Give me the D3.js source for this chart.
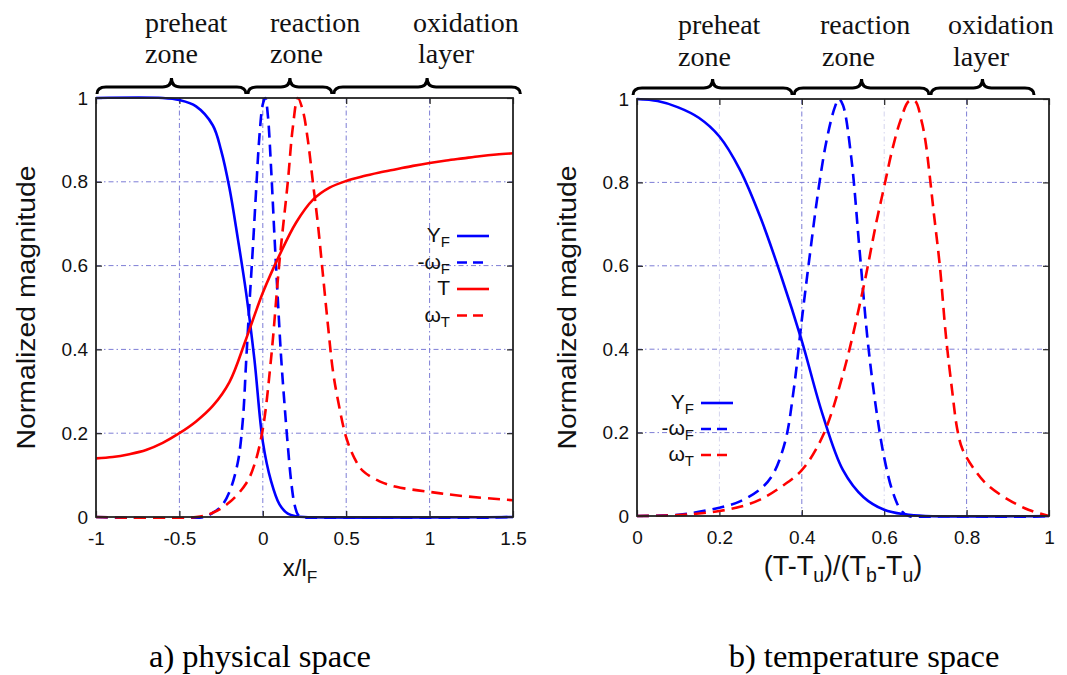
<!DOCTYPE html>
<html><head><meta charset="utf-8">
<script src="https://cdn.jsdelivr.net/npm/d3@7"></script>
<style>body{margin:0;background:#fff}</style></head>
<body><svg id="c" width="1067" height="675"></svg>
<script>
// ---------- data: (a) physical space ----------
const physXTicks = [-1, -0.5, 0, 0.5, 1, 1.5];
const yTicks = [0, 0.2, 0.4, 0.6, 0.8, 1];
const physYF_x = [-1,-0.6,-0.5,-0.4,-0.3,-0.25,-0.2,-0.15,-0.1,-0.05,0,0.05,0.1,0.15,0.2,0.25,1.5];
const physYF_y = [1,1,0.995,0.98,0.935,0.875,0.785,0.665,0.535,0.375,0.18,0.085,0.03,0.008,0.002,0,0];
const physWF_x = [-1,-0.35,-0.3,-0.25,-0.2,-0.15,-0.12,-0.1,-0.08,-0.06,-0.04,-0.02,0,0.015,0.03,0.05,0.07,0.09,0.11,0.13,0.15,0.17,0.19,0.21,0.23,1.5];
const physWF_y = [0,0,0.01,0.025,0.06,0.13,0.23,0.37,0.51,0.64,0.78,0.91,0.985,1,0.96,0.83,0.67,0.52,0.38,0.27,0.17,0.085,0.03,0.006,0,0];
const physT_x = [-1,-0.9,-0.8,-0.7,-0.6,-0.5,-0.4,-0.3,-0.2,-0.1,0,0.1,0.2,0.3,0.4,0.5,0.6,0.7,0.8,0.9,1,1.1,1.2,1.3,1.4,1.5];
const physT_y = [0.14,0.143,0.15,0.16,0.177,0.2,0.228,0.265,0.322,0.425,0.535,0.625,0.703,0.757,0.786,0.802,0.813,0.822,0.83,0.838,0.845,0.851,0.856,0.861,0.865,0.868];
const physWT_x = [-1,-0.4,-0.3,-0.2,-0.1,-0.05,0,0.05,0.1,0.15,0.18,0.21,0.24,0.27,0.3,0.33,0.36,0.39,0.42,0.45,0.5,0.55,0.6,0.7,0.8,1.0,1.2,1.5];
const physWT_y = [0,0,0.01,0.035,0.08,0.125,0.21,0.38,0.61,0.8,0.93,1,0.97,0.9,0.8,0.7,0.58,0.46,0.35,0.28,0.19,0.14,0.11,0.085,0.072,0.06,0.05,0.04];
const physZones = [["preheat","zone"],["reaction","zone"],["oxidation","layer"]];
const physZoneEdges = [-1, -0.095, 0.42, 1.55];

// ---------- data: (b) temperature space ----------
const tempXTicks = [0, 0.2, 0.4, 0.6, 0.8, 1];
const tempYF_x = [0,0.05,0.1,0.15,0.2,0.25,0.3,0.35,0.4,0.45,0.5,0.55,0.6,0.65,0.7,1];
const tempYF_y = [1,0.995,0.98,0.955,0.91,0.83,0.715,0.575,0.42,0.245,0.11,0.045,0.015,0.004,0,0];
const tempWF_x = [0,0.1,0.15,0.2,0.25,0.3,0.33,0.36,0.38,0.4,0.42,0.44,0.46,0.48,0.49,0.5,0.52,0.54,0.56,0.58,0.6,0.62,0.64,0.66,1];
const tempWF_y = [0,0.003,0.01,0.02,0.035,0.065,0.1,0.18,0.3,0.47,0.63,0.78,0.9,0.98,1,0.985,0.86,0.64,0.42,0.26,0.14,0.06,0.015,0,0];
const tempWT_x = [0,0.1,0.15,0.2,0.25,0.3,0.35,0.4,0.45,0.5,0.55,0.58,0.6,0.62,0.64,0.66,0.675,0.69,0.7,0.71,0.72,0.735,0.75,0.765,0.777,0.79,0.82,0.85,0.9,0.95,1];
const tempWT_y = [0,0.002,0.006,0.012,0.022,0.04,0.07,0.11,0.19,0.34,0.55,0.7,0.79,0.88,0.95,0.995,0.995,0.95,0.9,0.82,0.73,0.6,0.43,0.3,0.21,0.16,0.11,0.075,0.04,0.015,0];
const tempZones = [["preheat","zone"],["reaction","zone"],["oxidation","layer"]];
const tempZoneEdges = [-0.012, 0.379, 0.711, 0.966];

const BLUE = "#0000ff", RED = "#ff0000";
const svg = d3.select("#c");

function zip(xs, ys){ return xs.map((x,i)=>[x, ys[i]]); }

function brace(g, xa, xb, y){
  const xm = (xa+xb)/2, h = 7;
  const p = `M${xa},${y+h} Q${xa},${y} ${xa+9},${y} L${xm-9},${y} Q${xm},${y} ${xm},${y-h-2} Q${xm},${y} ${xm+9},${y} L${xb-9},${y} Q${xb},${y} ${xb},${y+h}`;
  g.append("path").attr("d", p).attr("fill","none").attr("stroke","#000").attr("stroke-width",3);
}

function panel(cfg){
  const x = d3.scaleLinear().domain(cfg.xDomain).range([cfg.x0, cfg.x1]);
  const y = d3.scaleLinear().domain([0,1]).range([cfg.y1, cfg.y0]);
  const g = svg.append("g");
  const clipId = "clip"+cfg.id;
  g.append("clipPath").attr("id", clipId).append("rect")
    .attr("x", cfg.x0).attr("y", cfg.y0-4).attr("width", cfg.x1-cfg.x0).attr("height", cfg.y1-cfg.y0+6);

  // grid
  const gridV = cfg.xTicks.slice(1,-1);
  gridV.forEach(v=>{
    g.append("line").attr("x1",x(v)).attr("x2",x(v)).attr("y1",cfg.y0).attr("y2",cfg.y1)
      .attr("stroke", cfg.faintV && cfg.faintV.includes(v) ? "#d4d4ee" : "#7d7dd6")
      .attr("stroke-width",1).attr("stroke-dasharray","5,3,1.5,3");
  });
  yTicks.slice(1,-1).forEach(v=>{
    g.append("line").attr("x1",cfg.x0).attr("x2",cfg.x1).attr("y1",y(v)).attr("y2",y(v))
      .attr("stroke","#7d7dd6").attr("stroke-width",1).attr("stroke-dasharray","5,3,1.5,3");
  });

  // axes (inward ticks)
  const fmt = d=> String(d);
  const ax = g.append("g").attr("transform",`translate(0,${cfg.y1})`)
    .call(d3.axisBottom(x).tickValues(cfg.xTicks).tickFormat(fmt).tickSize(-6).tickPadding(15));
  const axT = g.append("g").attr("transform",`translate(0,${cfg.y0})`)
    .call(d3.axisTop(x).tickValues(cfg.xTicks).tickFormat("").tickSize(-6));
  const ay = g.append("g").attr("transform",`translate(${cfg.x0},0)`)
    .call(d3.axisLeft(y).tickValues(yTicks).tickFormat(fmt).tickSize(-6).tickPadding(8));
  const ayR = g.append("g").attr("transform",`translate(${cfg.x1},0)`)
    .call(d3.axisRight(y).tickValues(yTicks).tickFormat("").tickSize(-6));
  [ax,axT,ay,ayR].forEach(a=>{
    a.select(".domain").remove();
    a.selectAll(".tick line").attr("stroke","#222").attr("stroke-width",1.2);
    a.selectAll(".tick text").attr("font-family","'Liberation Sans',Arial,sans-serif").attr("font-size",19).attr("fill","#111");
  });

  // curves
  const line = d3.line().x(d=>x(d[0])).y(d=>y(d[1])).curve(d3.curveCatmullRom.alpha(0.5));
  const cg = g.append("g").attr("clip-path",`url(#${clipId})`);
  cfg.series.forEach(s=>{
    cg.append("path").datum(zip(s.xs, s.ys)).attr("d", line).attr("fill","none")
      .attr("stroke", s.color).attr("stroke-width",2.6)
      .attr("stroke-dasharray", s.dash ? "12,7" : null);
  });

  // frame
  g.append("rect").attr("x",cfg.x0).attr("y",cfg.y0).attr("width",cfg.x1-cfg.x0).attr("height",cfg.y1-cfg.y0)
    .attr("fill","none").attr("stroke","#222").attr("stroke-width",1.8);

  // y title
  g.append("text").attr("transform",`translate(${cfg.x0-61},${(cfg.y0+cfg.y1)/2}) rotate(-90)`)
    .attr("text-anchor","middle").attr("font-family","'Liberation Sans',Arial,sans-serif")
    .attr("font-size",26).attr("fill","#111").attr("textLength",284).attr("lengthAdjust","spacingAndGlyphs")
    .text("Normalized magnitude");

  // x title
  const xt = g.append("text").attr("x", cfg.xTitleX).attr("y", cfg.y1+59).attr("text-anchor","middle")
    .attr("font-family","'Liberation Sans',Arial,sans-serif").attr("font-size",cfg.xTitleSize).attr("fill","#111");
  cfg.xTitle.forEach(part=>{
    const t = xt.append("tspan").text(part.t);
    if(part.sub){ t.attr("font-size",cfg.xTitleSize*0.72).attr("dy",7); }
    else if(part.after){ t.attr("dy",-7); }
  });

  // legend
  cfg.legend.forEach((L,i)=>{
    const ly = cfg.legY + i*cfg.legDY;
    g.append("line").attr("x1",cfg.legX).attr("x2",cfg.legX+32).attr("y1",ly).attr("y2",ly)
      .attr("stroke",L.color).attr("stroke-width",2.6).attr("stroke-dasharray",L.dash?"10,6":null);
    const t = g.append("text").attr("x",cfg.legX-7).attr("y",ly+6).attr("text-anchor","end")
      .attr("font-family","'Liberation Sans',Arial,sans-serif").attr("font-size",21).attr("fill","#111");
    t.append("tspan").text(L.main);
    if(L.sub) t.append("tspan").attr("font-size",15).attr("dy",5).text(L.sub);
  });

  // zone braces + labels
  const bg = g.append("g");
  for(let i=0;i<3;i++){
    const xa = x(cfg.zoneEdges[i]), xb = x(cfg.zoneEdges[i+1]);
    brace(bg, xa+1, xb-1, cfg.braceY);
    const lab = cfg.zones[i];
    const off = cfg.zoneTextOff[i];
    bg.append("text").attr("x", off[0]).attr("y", cfg.zoneTextY[0])
      .attr("font-family","'Liberation Serif','Times New Roman',serif").attr("font-size",28).attr("fill","#111").text(lab[0]);
    bg.append("text").attr("x", off[1]).attr("y", cfg.zoneTextY[1])
      .attr("font-family","'Liberation Serif','Times New Roman',serif").attr("font-size",28).attr("fill","#111").text(lab[1]);
  }

  // caption
  g.append("text").attr("x", cfg.capX).attr("y", 667).attr("text-anchor","middle")
    .attr("font-family","'Liberation Serif','Times New Roman',serif").attr("font-size",32.5).attr("fill","#000")
    .text(cfg.caption);
}

panel({
  id:"a", x0:96, x1:513, y0:98, y1:517, xDomain:[-1,1.5], xTicks: physXTicks,
  series:[
    {xs:physYF_x, ys:physYF_y, color:BLUE, dash:false},
    {xs:physWF_x, ys:physWF_y, color:BLUE, dash:true},
    {xs:physT_x, ys:physT_y, color:RED, dash:false},
    {xs:physWT_x, ys:physWT_y, color:RED, dash:true}
  ],
  legend:[
    {main:"Y", sub:"F", color:BLUE, dash:false},
    {main:"-ω", sub:"F", color:BLUE, dash:true},
    {main:"T", sub:null, color:RED, dash:false},
    {main:"ω", sub:"T", color:RED, dash:true}
  ],
  legX:457, legY:236, legDY:26.5,
  xTitle:[{t:"x/l"},{t:"F", sub:true}], xTitleX:300, xTitleSize:24,
  zones: physZones, zoneEdges: physZoneEdges, braceY:87,
  zoneTextOff:[[145,145],[270,270],[413,418]], zoneTextY:[32,63],
  capX:260, caption:"a) physical space"
});

panel({
  id:"b", x0:637, x1:1049, y0:99, y1:516, xDomain:[0,1], xTicks: tempXTicks, faintV:[0.2,0.6],
  series:[
    {xs:tempYF_x, ys:tempYF_y, color:BLUE, dash:false},
    {xs:tempWF_x, ys:tempWF_y, color:BLUE, dash:true},
    {xs:tempWT_x, ys:tempWT_y, color:RED, dash:true}
  ],
  legend:[
    {main:"Y", sub:"F", color:BLUE, dash:false},
    {main:"-ω", sub:"F", color:BLUE, dash:true},
    {main:"ω", sub:"T", color:RED, dash:true}
  ],
  legX:701, legY:403, legDY:26,
  xTitle:[{t:"(T-T"},{t:"u", sub:true},{t:")/(T", after:true},{t:"b", sub:true},{t:"-T", after:true},{t:"u", sub:true},{t:")", after:true}], xTitleX:843, xTitleSize:27,
  zones: tempZones, zoneEdges: tempZoneEdges, braceY:88,
  zoneTextOff:[[678,678],[820,822],[948,953]], zoneTextY:[34,66],
  capX:864, caption:"b) temperature space"
});
</script></body></html>
